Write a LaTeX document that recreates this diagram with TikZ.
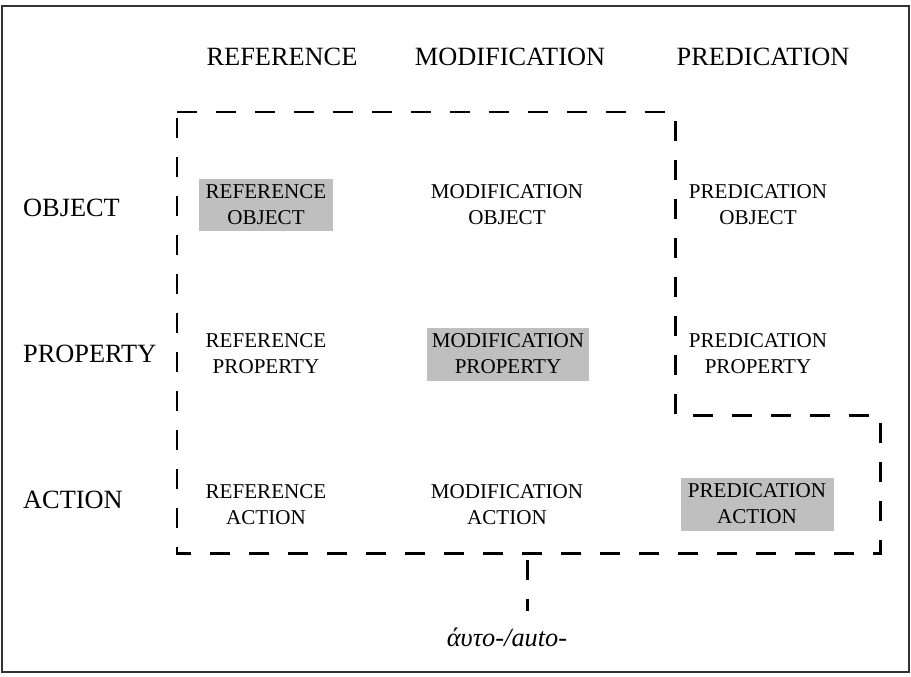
\documentclass[tikz,border=0pt]{standalone}
\usepackage{fontspec}
\setmainfont{Liberation Serif}
\usetikzlibrary{positioning}

\tikzset{
  head/.style={font=\fontsize{15}{17}\selectfont},
  cell/.style={align=center, font=\fontsize{12}{14.8}\selectfont},
  shaded/.style={cell, fill=gray!50, inner sep=0pt, minimum height=1.06cm},
  hull/.style={line width=1.7pt, dash pattern=on 0.4cm off 0.38cm}
}

\begin{document}
\begin{tikzpicture}[x=0.02cm, y=-0.02cm]

   \useasboundingbox (0,0) rectangle (911,676);
   \draw[gray!40!black, line width=0.8pt] (2,6) rectangle (909,672);

   % column heads
   \node[head] (refhead) at (282,57) {REFERENCE};
   \node[head] (modhead) at (510,57) {MODIFICATION};
   \node[head] (predhead) at (763,57) {PREDICATION};

   % row heads
   \node[head, anchor=west] (objrow) at (17,208) {OBJECT};
   \node[head, anchor=west] (proprow) at (17,354) {PROPERTY};
   \node[head, anchor=west] (actrow) at (17,500) {ACTION};

   % cells
   \node[shaded, minimum width=2.68cm] (refobj) at (266,205) {REFERENCE\\OBJECT};
   \node[cell] (modobj) at (507,205) {MODIFICATION\\OBJECT};
   \node[cell] (predobj) at (758,205) {PREDICATION\\OBJECT};

   \node[cell] (refprop) at (266,354) {REFERENCE\\PROPERTY};
   \node[shaded, minimum width=3.24cm] (modprop) at (508,354) {MODIFICATION\\PROPERTY};
   \node[cell] (predprop) at (758,354) {PREDICATION\\PROPERTY};

   \node[cell] (refact) at (266,505) {REFERENCE\\ACTION};
   \node[cell] (modact) at (507,505) {MODIFICATION\\ACTION};
   \node[shaded, minimum width=3.06cm] (predact) at (757,504) {PREDICATION\\ACTION};

   % the dashed outline and its stem
   \draw[hull] (177,112) -- (675,112) -- (675,415) -- (880,415) -- (880,553) -- (177,553) -- cycle;

   \node[head, font=\fontsize{15}{17}\selectfont\itshape] (auto) at (507,637) {άυτο-/auto-};
   \coordinate (stem) at (527,560);
   \draw[hull, shorten >=0.2cm] (stem) -- (auto.north -| stem);

\end{tikzpicture}
\end{document}
